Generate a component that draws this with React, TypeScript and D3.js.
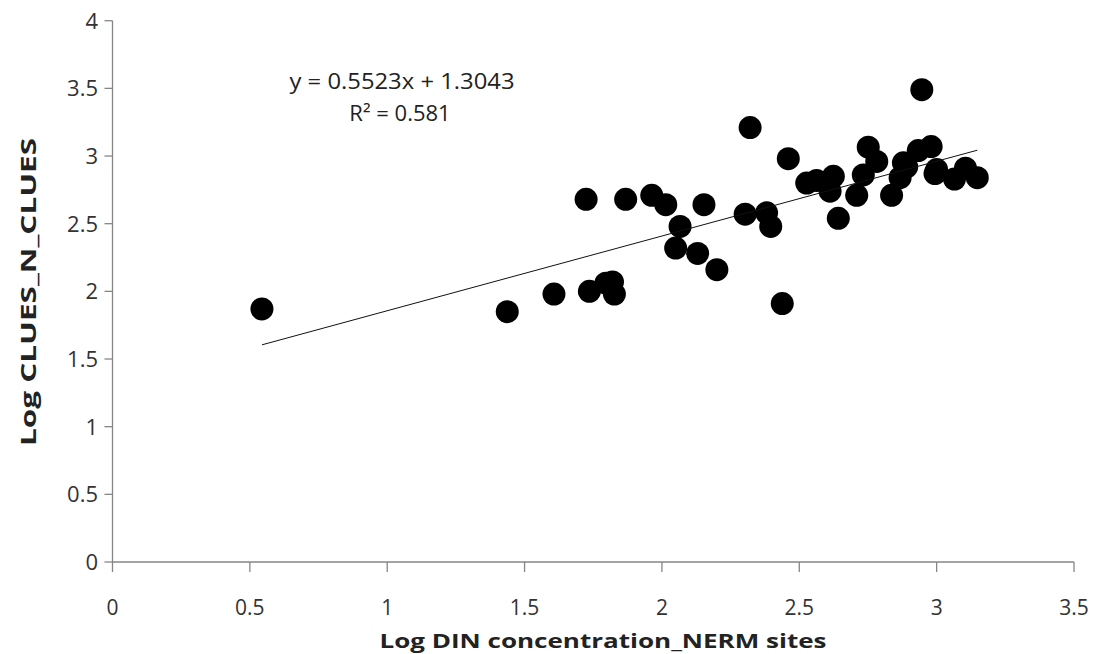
import * as d3 from "d3";

// scatter points: Log DIN (x) vs Log CLUES_N (y)
const dinLog = [
  0.544, 1.437, 1.607, 1.736, 1.796, 1.82, 1.827, 1.724, 1.868, 1.963,
  2.014, 2.066, 2.05, 2.13, 2.2, 2.153, 2.321, 2.46, 2.303, 2.381,
  2.396, 2.438, 2.527, 2.563, 2.606, 2.624, 2.612, 2.642, 2.709, 2.733,
  2.751, 2.782, 2.836, 2.867, 2.879, 2.891, 2.933, 2.946, 2.98, 2.994,
  3.0, 3.065, 3.105, 3.148,
];
const cluesLog = [
  1.87, 1.85, 1.98, 2.0, 2.06, 2.07, 1.98, 2.68, 2.68, 2.71,
  2.64, 2.48, 2.32, 2.28, 2.16, 2.64, 3.21, 2.98, 2.57, 2.58,
  2.48, 1.91, 2.8, 2.82, 2.8, 2.85, 2.74, 2.54, 2.71, 2.86,
  3.065, 2.96, 2.71, 2.84, 2.95, 2.92, 3.04, 3.49, 3.07, 2.87,
  2.9, 2.83, 2.91, 2.84,
];

const slope = 0.5523;
const intercept = 1.3043;
const xTicks = [0, 0.5, 1, 1.5, 2, 2.5, 3, 3.5];
const yTicks = [0, 0.5, 1, 1.5, 2, 2.5, 3, 3.5, 4];

const width = 1095;
const height = 654;
const font = "'Open Sans', 'Noto Sans', sans-serif";

export default function App() {
  const x = d3.scaleLinear([0, 3.5], [112.5, 1074]);
  const y = d3.scaleLinear([0, 4], [562, 20.7]);
  const axisColor = "#868686";
  const fitX = [d3.min(dinLog), d3.max(dinLog)] as number[];
  const line = d3.line<number>((d) => x(d), (d) => y(slope * d + intercept));

  return (
    <svg width={width} height={height} style={{ position: "absolute", left: 0, top: 0, background: "white" }}>
      {/* axes */}
      <line x1={x(0)} x2={x(3.5)} y1={y(0)} y2={y(0)} stroke={axisColor} strokeWidth={1.3} />
      <line x1={x(0)} x2={x(0)} y1={y(0)} y2={y(4)} stroke={axisColor} strokeWidth={1.3} />
      {xTicks.map((t) => (
        <g key={"x" + t}>
          <line x1={x(t)} x2={x(t)} y1={y(0)} y2={y(0) + 10} stroke={axisColor} strokeWidth={1.3} />
          <text x={x(t)} y={615} textAnchor="middle" fontFamily={font} fontSize={21} fill="#333">{t}</text>
        </g>
      ))}
      {yTicks.map((t) => (
        <g key={"y" + t}>
          <line x1={x(0) - 8} x2={x(0)} y1={y(t)} y2={y(t)} stroke={axisColor} strokeWidth={1.3} />
          <text x={98} y={y(t)} dy="0.36em" textAnchor="end" fontFamily={font} fontSize={22} fill="#333">{t}</text>
        </g>
      ))}

      {/* points */}
      {dinLog.map((d, i) => (
        <circle key={i} cx={x(d)} cy={y(cluesLog[i])} r={11.5} fill="black" />
      ))}

      {/* trendline */}
      <path d={line(fitX) ?? ""} fill="none" stroke="#111" strokeWidth={1} />

      <text x={402} y={89} textAnchor="middle" fontFamily={font} fontSize={22} textLength={225} lengthAdjust="spacingAndGlyphs" fill="#222">y = 0.5523x + 1.3043</text>
      <text x={400} y={121} textAnchor="middle" fontFamily={font} fontSize={22} fill="#222">R² = 0.581</text>

      <text x={603} y={648} textAnchor="middle" fontFamily={font} fontSize={20} fontWeight="bold" textLength={447} lengthAdjust="spacingAndGlyphs" fill="#222">Log DIN concentration_NERM sites</text>
      <text transform="translate(36,292) rotate(-90)" textAnchor="middle" fontFamily={font} fontSize={22} fontWeight="bold" textLength={308} lengthAdjust="spacingAndGlyphs" fill="#222">Log CLUES_N_CLUES</text>
    </svg>
  );
}
